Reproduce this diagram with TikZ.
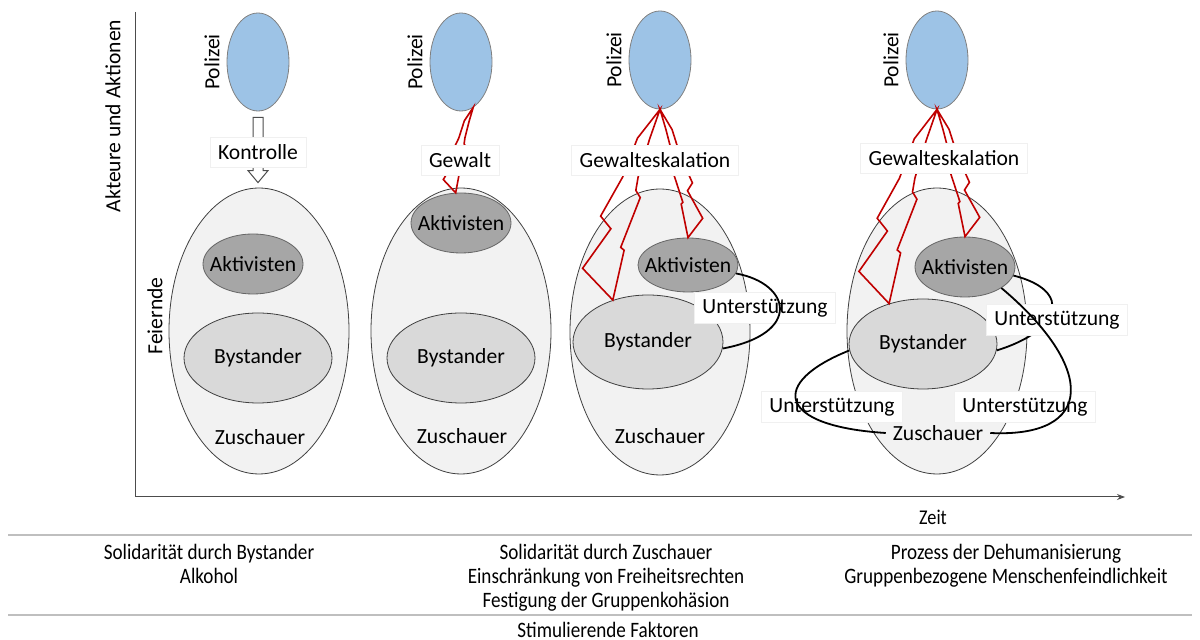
\documentclass[tikz,border=0pt]{standalone}
\usepackage{fontspec}
\setmainfont{Carlito}
\newfontfamily\condfont[FakeStretch=0.87]{Carlito}
\usetikzlibrary{shapes.geometric, calc, positioning, arrows.meta}
\definecolor{polblue}{HTML}{9DC3E6}
\definecolor{crowdgray}{HTML}{F2F2F2}
\definecolor{activgray}{HTML}{A6A6A6}
\definecolor{bystgray}{HTML}{D9D9D9}
\definecolor{boltred}{HTML}{C00000}
\tikzset{
  police/.style={
    ellipse,
    draw=black!50, fill=polblue,
    minimum width=31pt, minimum height=49pt,
    inner sep=0pt},
  crowd/.style={
    ellipse,
    draw=black!75, fill=crowdgray,
    minimum width=90pt, minimum height=143pt,
    inner sep=0pt},
  activists/.style={
    ellipse,
    draw=black!60, fill=activgray,
    minimum width=50pt, minimum height=30pt,
    inner sep=0pt},
  bystanders/.style={
    ellipse,
    draw=black!75, fill=bystgray,
    minimum width=74pt, minimum height=45pt,
    inner sep=0pt},
  polname/.style={rotate=90, anchor=south},
  tag/.style={fill=white, draw=black!6, inner xsep=4pt, minimum height=15pt},
  boltline/.style={draw=boltred, line width=0.8pt, line join=miter},
  support/.style={draw=black, line width=0.9pt},
  hollowarrow/.style={draw=black!70, fill=white, line width=0.5pt},
  axis/.style={draw=black!70, line width=0.5pt},
  rule/.style={draw=black!25, line width=1.2pt},
  factor/.style={font=\condfont\fontsize{11}{12}\selectfont, align=center, anchor=north},
}
% lightning bolt from #1 to #2, #3 = width and side
\newcommand\bolt[3]{%
  \draw[boltline] (#1)
    -- ($(#1)!0.17!(#2)!{#3*7.5pt}!90:(#2)$)
    -- ($(#1)!0.38!(#2)!{#3*10pt}!90:(#2)$)
    -- ($(#1)!0.60!(#2)!{#3*16pt}!90:(#2)$)
    -- ($(#1)!0.65!(#2)!{#3*9.5pt}!90:(#2)$)
    -- ($(#1)!0.88!(#2)!{#3*18.5pt}!90:(#2)$)
    -- (#2)
    -- ($(#1)!0.74!(#2)!{#3*0.5pt}!90:(#2)$)
    -- ($(#1)!0.73!(#2)!{#3*2.5pt}!90:(#2)$)
    -- ($(#1)!0.46!(#2)!{#3*(-1pt)}!90:(#2)$)
    -- ($(#1)!0.43!(#2)!{#3*2pt}!90:(#2)$)
    -- ($(#1)!0.36!(#2)!{#3*2.5pt}!90:(#2)$)
    -- ($(#1)!0.16!(#2)!{#3*1.5pt}!90:(#2)$)
    -- cycle;}

\begin{document}
\begin{tikzpicture}[x=0.5pt, y=-0.5pt, font=\fontsize{10.8}{12}\selectfont]
  \useasboundingbox (0,0) rectangle (1200,640);

  % axes
  \coordinate (ytop) at (135,12);
  \coordinate (xend) at (1125,497);
  \draw[axis, -{Stealth[length=4pt,width=3pt]}] (ytop) |- (xend);
  \node[rotate=90] (ylabel) at (113,116) {Akteure und Aktionen};
  \node[rotate=90] (feiernde) at (155,316) {Feiernde};
  \node[font=\condfont\fontsize{10.5}{12}\selectfont] (zeit) at (933,517) {Zeit};

  % crowds
  \node[crowd] (crowd1) at (259,331) {};
  \node[crowd] (crowd2) at (461,331) {};
  \node[crowd] (crowd3) at (660,332) {};
  \node[crowd] (crowd4) at (937,331) {};

  \node[activists, label=center:Aktivisten] (akt1) at (253,264) {};
  \node[activists, label=center:Aktivisten] (akt2) at (461,223) {};
  \node[activists, minimum height=27pt, label=center:Aktivisten] (akt3) at (688,265) {};
  \node[activists, label=center:Aktivisten] (akt4) at (965,267) {};

  \node[bystanders, label=center:Bystander] (byst1) at (258,358) {};
  \node[bystanders, label=center:Bystander] (byst2) at (461,358) {};
  \node[bystanders, minimum width=75pt, minimum height=47pt, label=center:Bystander] (byst3) at (648,342) {};
  \node[bystanders, label=center:Bystander] (byst4) at (923,344) {};

  \node (zus1) at (260,437) {Zuschauer};
  \node (zus2) at (462,436) {Zuschauer};
  \node (zus3) at (660,436) {Zuschauer};
  \node (zus4) at (938,433) {Zuschauer};

  % police
  \node[police] (pol1) at (258,62) {};
  \node[police] (pol2) at (461,62) {};
  \node[police] (pol3) at (660,60) {};
  \node[police] (pol4) at (937,60) {};
  \foreach \i in {1,...,4}
    \node[polname] at (pol\i.west) {Polizei};

  % control
  \draw[hollowarrow] ($(pol1.south)+(-5,6)$)
    -- ($(pol1.south |- crowd1.north)+(-5,-17)$) -- ++(-5,0)
    -- ($(pol1.south |- crowd1.north)+(0,-5)$) -- ++(10,-12) -- ++(-5,0)
    -- ($(pol1.south)+(5,6)$) -- cycle;
  \node[tag] (kontrolle) at (258,152) {Kontrolle};

  % violence
  \bolt{pol2.-75}{akt2.100}{-0.4}
  \bolt{pol3.south}{byst3.130}{-1}
  \bolt{pol3.south}{akt3.north}{0.5}
  \bolt{pol4.south}{byst4.130}{-1}
  \bolt{pol4.south}{akt4.north}{0.5}
  \node[tag] (gewalt2) at (460,160) {Gewalt};
  \node[tag] (gewalt3) at (655,160) {Gewalteskalation};
  \node[tag] (gewalt4) at (944,158) {Gewalteskalation};

  % support
  \node[tag] (sup3) at (765,308) {Unterstützung};
  \draw[support] (akt3.-10) .. controls +(55,10) and +(80,-15) .. (byst3.-5);
  \draw[support] (akt4.-10) .. controls +(60,15) and +(65,-20) .. (byst4.-5);
  \node[tag] (sup4a) at (1057,320) {Unterstützung};
  \node[tag] (sup4b) at (832,407) {Unterstützung};
  \node[tag] (sup4c) at (1025,407) {Unterstützung};
  \draw[support] (akt4.-30) .. controls +(95,80) and +(105,5) .. (zus4.east);
  \draw[support] (byst4.185) .. controls +(-80,32) and +(-110,-7) .. (zus4.west);

  % stimulating factors
  \draw[rule] (8,535) -- (1192,535);
  \draw[rule] (8,615) -- (1192,615);
  \node[factor] (fac1) at (209,537) {Solidarität durch Bystander\\Alkohol};
  \node[factor] (fac2) at (606,537) {Solidarität durch Zuschauer\\Einschränkung von Freiheitsrechten\\Festigung der Gruppenkohäsion};
  \node[factor] (fac3) at (1006,537) {Prozess der Dehumanisierung\\Gruppenbezogene Menschenfeindlichkeit};
  \node[font=\condfont\fontsize{11}{12}\selectfont] (stim) at (608,630) {Stimulierende Faktoren};
\end{tikzpicture}
\end{document}
